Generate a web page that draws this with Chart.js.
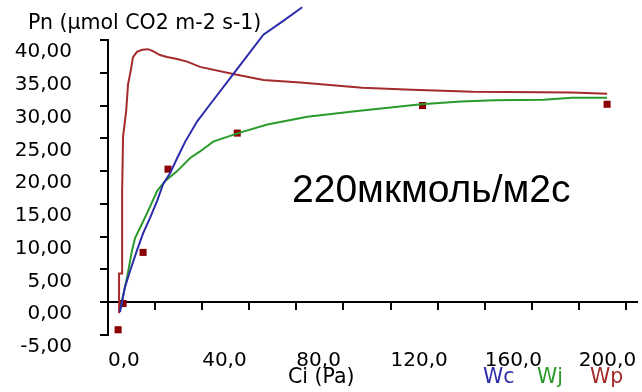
<!DOCTYPE html>
<html>
<head>
<meta charset="utf-8">
<script src="https://cdn.jsdelivr.net/npm/chart.js@4/dist/chart.umd.min.js"></script>
<style>
  body { margin: 0; background: #fff; }
  #wrap { width: 642px; height: 392px; }
</style>
</head>
<body>
<div id="wrap"><canvas id="aciChart"></canvas></div>
<script>
// Wc - rubisco limited (blue)
const wcCi = [5.1, 7.2, 9.4, 12.3, 14.9, 17.9, 20.9, 23.4, 26.4, 29.4, 32.8, 37.9, 43.4, 53.2, 66.0, 74.0, 82.5];
const wcPn = [-1.5, 2.3, 4.8, 7.9, 10.5, 12.9, 15.5, 18.0, 19.7, 22.0, 24.5, 27.6, 30.2, 34.8, 40.8, 42.8, 45.0];

// Wj - electron transport limited (green)
const wjCi = [5.5, 6.0, 8.1, 10.2, 11.5, 14.5, 17.0, 20.9, 24.3, 29.4, 34.9, 39.1, 44.7, 55.3, 67.7, 84.7, 104, 120, 133, 150, 164, 185, 197, 212];
const wjPn = [-0.8, 0.3, 3.8, 7.9, 9.8, 12.0, 13.9, 17.0, 18.5, 20.0, 22.0, 23.0, 24.5, 25.8, 27.1, 28.3, 29.1, 29.7, 30.2, 30.6, 30.8, 30.9, 31.2, 31.2];

// Wp - TPU limited (red)
const wpCi = [4.7, 4.7, 6.0, 6.0, 6.4, 7.7, 8.5, 9.8, 10.6, 12.3, 14.5, 17.0, 19.1, 22.1, 25.1, 29.4, 33.6, 39.1, 53.2, 66.0, 81.7, 108, 129, 155, 197, 212];
const wpPn = [-1.7, 4.4, 4.4, 16.7, 25.3, 29.1, 33.2, 35.6, 37.4, 38.2, 38.5, 38.6, 38.3, 37.7, 37.4, 37.1, 36.7, 35.9, 34.8, 33.9, 33.5, 32.7, 32.4, 32.1, 32.0, 31.8];

// measured points
const obsCi = [4.3, 6.4, 14.9, 25.5, 54.9, 133.6, 212];
const obsPn = [-4.2, -0.2, 7.6, 20.3, 25.8, 30.0, 30.2];

const seriesNames = ['Wc', 'Wj', 'Wp'];
const seriesColors = ['#2c2caa', '#2a9a2a', '#a52a2a'];
const pointColor = '#8b0000';

const yTitle = 'Pn (\u00b5mol CO2 m-2 s-1)';
const xTitle = 'Ci (Pa)';
const note = '220мкмоль/м2с';

const toPoints = (xs, ys) => xs.map((x, i) => ({ x: x, y: ys[i] }));

const textPlugin = {
  id: 'extraText',
  afterDraw(chart) {
    const ctx = chart.ctx;
    ctx.save();
    ctx.textBaseline = 'middle';
    ctx.textAlign = 'left';
    ctx.font = '20.5px "DejaVu Sans"';
    ctx.fillStyle = '#000';
    ctx.fillText(yTitle, 28, 24);
    ctx.fillText(xTitle, 288, 378);
    const legendX = [483, 537, 590];
    seriesNames.forEach((name, i) => {
      ctx.fillStyle = seriesColors[i];
      ctx.fillText(name, legendX[i], 378);
    });
    ctx.fillStyle = '#000';
    ctx.font = '39px "Liberation Sans"';
    ctx.fillText(note, 292, 191);
    ctx.restore();
  }
};

const lineSet = (ci, pn, i) => ({
  label: seriesNames[i],
  data: toPoints(ci, pn),
  showLine: true,
  borderColor: seriesColors[i],
  borderWidth: 2,
  pointRadius: 0,
  tension: 0,
  clip: false,
  order: i + 1
});

new Chart(document.getElementById('aciChart'), {
  type: 'scatter',
  data: {
    datasets: [
      lineSet(wcCi, wcPn, 0),
      lineSet(wjCi, wjPn, 1),
      lineSet(wpCi, wpPn, 2),
      {
        label: 'obs',
        data: toPoints(obsCi, obsPn),
        pointStyle: 'rect',
        pointRadius: 5,
        backgroundColor: pointColor,
        borderColor: pointColor,
        borderWidth: 0,
        clip: false,
        order: 5
      }
    ]
  },
  options: {
    responsive: true,
    maintainAspectRatio: false,
    animation: false,
    layout: { padding: { top: 37, bottom: 57, left: 0, right: 0 } },
    plugins: {
      legend: { display: false },
      tooltip: { enabled: false }
    },
    scales: {
      x: {
        type: 'linear',
        position: { y: 0 },
        min: 0,
        max: 224.7,
        afterFit: (scale) => { scale.paddingLeft = 0; scale.paddingRight = 0; },
        border: { color: '#000', width: 2 },
        grid: { drawOnChartArea: false, drawTicks: true, tickLength: 7, color: '#000', lineWidth: 2 },
        ticks: {
          stepSize: 20,
          includeBounds: false,
          autoSkip: false,
          maxRotation: 0,
          align: 'start',
          padding: 40,
          color: '#000',
          font: { family: 'DejaVu Sans', size: 20 },
          callback: (v) => (v % 40 === 0 ? v.toFixed(1).replace('.', ',') : '')
        }
      },
      y: {
        type: 'linear',
        position: 'left',
        min: -5,
        max: 40,
        afterFit: (scale) => { scale.width = 108; },
        border: { color: '#000', width: 2 },
        grid: { drawOnChartArea: false, drawTicks: true, tickLength: 8, color: '#000', lineWidth: 2 },
        ticks: {
          stepSize: 5,
          labelOffset: 12,
          padding: 28,
          color: '#000',
          font: { family: 'DejaVu Sans', size: 20 },
          callback: (v) => v.toFixed(2).replace('.', ',')
        }
      }
    }
  },
  plugins: [textPlugin]
});
</script>
</body>
</html>
